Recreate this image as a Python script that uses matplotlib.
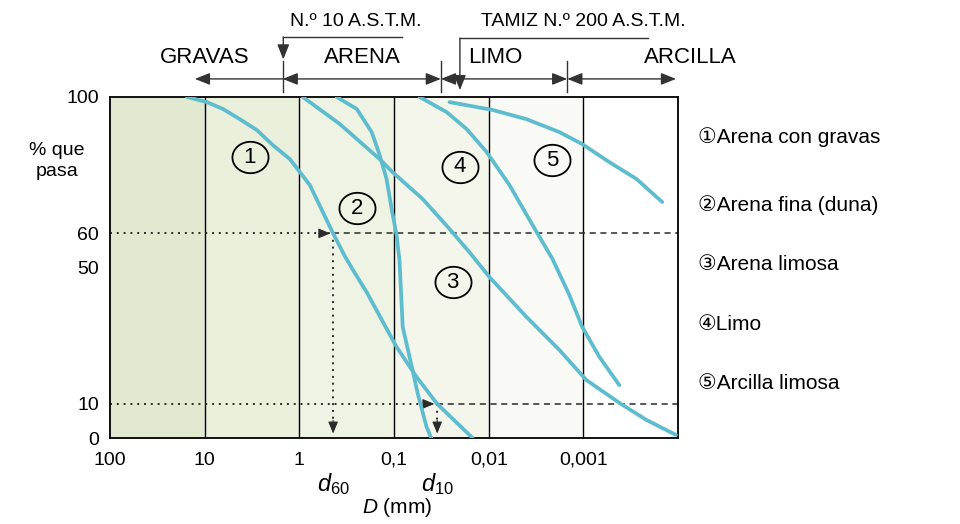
import matplotlib
matplotlib.use("Agg")
import matplotlib.pyplot as plt
import numpy as np

plt.rcParams['font.family'] = ['Liberation Sans', 'DejaVu Sans']
plt.rcParams['mathtext.fontset'] = 'custom'
plt.rcParams['mathtext.it'] = 'Liberation Sans:italic'
plt.rcParams['mathtext.rm'] = 'Liberation Sans'

# curves: D (mm) and % que pasa
d1 = [15.4, 9.5, 6.43, 4.26, 2.81, 1.91, 1.26, 0.776, 0.44, 0.332, 0.273, 0.193, 0.094, 0.0578, 0.035, 0.0148]
p1 = [100, 98.5, 96.5, 93.5, 90.3, 85.9, 81.8, 74.2, 60.0, 53.4, 49.4, 42.6, 26.7, 17.9, 10.0, 0]

d2 = [0.403, 0.248, 0.172, 0.142, 0.120, 0.106, 0.094, 0.0875, 0.081, 0.0637, 0.0564, 0.0453, 0.0404]
p2 = [100, 96.5, 89.7, 83.0, 76.0, 67.2, 59.5, 52.0, 32.6, 19.9, 13.2, 3.2, 0]

d3 = [0.92, 0.375, 0.142, 0.104, 0.0499, 0.0259, 0.0160, 0.00982, 0.00399, 0.00179, 0.00093, 0.000417, 0.000216, 0.000105]
p3 = [100, 92.1, 81.8, 78.0, 70.1, 61.3, 54.5, 47.2, 35.5, 25.8, 17.0, 10.3, 5.3, 0.9]

d4 = [0.0537, 0.0279, 0.0171, 0.01054, 0.00604, 0.00345, 0.00212, 0.00141, 0.00103, 0.000678, 0.000417]
p4 = [100, 95.6, 90.6, 83.9, 74.2, 62.5, 52.5, 42.0, 32.6, 23.8, 15.5]

d5 = [0.0259, 0.00912, 0.00399, 0.00179, 0.00103, 0.000532, 0.000276, 0.000147]
p5 = [98.5, 96.2, 93.5, 89.7, 86.2, 80.9, 76.0, 69.2]

curves = [(d1, p1), (d2, p2), (d3, p3), (d4, p4), (d5, p5)]
names = ['Arena con gravas', 'Arena fina (duna)', 'Arena limosa', 'Limo', 'Arcilla limosa']
marks = ['\u2460', '\u2461', '\u2462', '\u2463', '\u2464']
# where the circled numbers sit (D, %)
mark_d = [3.33, 0.248, 0.0241, 0.0203, 0.00212]
mark_p = [82.4, 67.4, 45.7, 79.5, 81.5]

x_ticks = [100, 10, 1, 0.1, 0.01, 0.001]
x_labels = ['100', '10', '1', '0,1', '0,01', '0,001']
y_ticks = [0, 10, 50, 60, 100]

d60 = 0.44
d10 = 0.035
zone_bounds = [1.5, 0.032, 0.00148]   # gravas|arena, arena|limo, limo|arcilla
zone_ends = [12.7, 0.000105]
zone_names = ['GRAVAS', 'ARENA', 'LIMO', 'ARCILLA']

col = '#5dbdcf'
ink = '#2a2a2a'
shade = ['#e2e9d1', '#eaf0dc', '#eff3e3', '#f4f6ec', '#f9faf5', '#ffffff']

fig = plt.figure(figsize=(9.6, 5.24), dpi=100)
ax = fig.add_axes([0.1146, 0.1641, 0.5917, 0.6508])
ax.set_xscale('log')
ax.set_xlim(100, 0.0001)
ax.set_ylim(0, 100)

# background shading per decade
edges = [100, 10, 1, 0.1, 0.01, 0.001, 0.0001]
for i in range(len(edges) - 1):
    ax.axvspan(edges[i], edges[i + 1], color=shade[i], lw=0, zorder=0)
for e in edges[1:-1]:
    ax.axvline(e, color='black', lw=1.0, zorder=1)

# 60 % and 10 % guide lines
ax.plot([100, d60], [60, 60], color=ink, ls=(0, (1, 2.5)), lw=1.4, zorder=2)
ax.plot([d60, 0.0001], [60, 60], color=ink, ls=(0, (4, 3)), lw=1.1, zorder=2)
ax.plot([100, d10], [10, 10], color=ink, ls=(0, (1, 2.5)), lw=1.4, zorder=2)
ax.plot([d10, 0.0001], [10, 10], color=ink, ls=(0, (4, 3)), lw=1.1, zorder=2)
ax.plot([d60, d60], [60, 2], color=ink, ls=(0, (1, 2.5)), lw=1.4, zorder=2)
ax.plot([d10, d10], [10, 2], color=ink, ls=(0, (1, 2.5)), lw=1.4, zorder=2)
ahead = dict(arrowstyle='-|>,head_length=0.6,head_width=0.25', color=ink, lw=0.8, mutation_scale=12)
ax.annotate('', xy=(d60, 60), xytext=(d60 * 1.5, 60), arrowprops=ahead, zorder=3)
ax.annotate('', xy=(d10, 10), xytext=(d10 * 1.5, 10), arrowprops=ahead, zorder=3)
ax.annotate('', xy=(d60, 0.5), xytext=(d60, 6), arrowprops=ahead, zorder=3)
ax.annotate('', xy=(d10, 0.5), xytext=(d10, 6), arrowprops=ahead, zorder=3)

for (d, p) in curves:
    ax.plot(d, p, color=col, lw=2.7, solid_capstyle='round', solid_joinstyle='round', zorder=4)

# circled numbers on the curves (slightly wide ovals like the original)
t = np.linspace(0, 2 * np.pi, 80)
oval = np.column_stack([1.15 * np.cos(t), np.sin(t)])
for i in range(len(mark_d)):
    ax.plot(mark_d[i], mark_p[i], marker=oval, ms=26, mfc='none', mec='black', mew=1.3, ls='none', zorder=5)
    ax.text(mark_d[i], mark_p[i], str(i + 1), ha='center', va='center', fontsize=16, zorder=5)

for s in ax.spines.values():
    s.set_linewidth(1.3)
ax.set_xticks(x_ticks)
ax.set_xticklabels(x_labels, fontsize=14)
ax.minorticks_off()
ax.set_yticks(y_ticks)
ax.set_yticklabels([str(v) for v in y_ticks], fontsize=14)
ax.tick_params(length=0)
ax.tick_params(axis='x', pad=10)
ax.tick_params(axis='y', pad=8)

ax.text(-0.093, 0.812, '% que\npasa', transform=ax.transAxes, ha='center', va='center',
        fontsize=14, linespacing=1.25)

# d60, d10 and axis title under the chart
tr = ax.get_xaxis_transform()
ax.text(d60, -0.135, r'$d_{60}$', transform=tr, ha='center', va='center', fontsize=17)
ax.text(d10, -0.135, r'$d_{10}$', transform=tr, ha='center', va='center', fontsize=17)
ax.text(0.505, -0.205, r'$D$ (mm)', transform=ax.transAxes, ha='center', va='center', fontsize=15)

# zone arrows above the chart
ya = 1.053
kw = dict(xycoords=tr, textcoords=tr, annotation_clip=False)
one = dict(arrowstyle='-|>,head_length=0.7,head_width=0.28', color='#333333', lw=1.0, mutation_scale=13,
           shrinkA=0, shrinkB=0)
two = dict(arrowstyle='<|-|>,head_length=0.7,head_width=0.28', color='#333333', lw=1.0, mutation_scale=13,
           shrinkA=0, shrinkB=0)
ax.annotate('', xy=(zone_ends[0], ya), xytext=(zone_bounds[0], ya), arrowprops=one, **kw)
ax.annotate('', xy=(zone_bounds[1], ya), xytext=(zone_bounds[0], ya), arrowprops=two, **kw)
ax.annotate('', xy=(zone_bounds[2], ya), xytext=(zone_bounds[1], ya), arrowprops=two, **kw)
ax.annotate('', xy=(zone_ends[1], ya), xytext=(zone_bounds[2], ya), arrowprops=two, **kw)
for b in zone_bounds:
    ax.plot([b, b], [1.016, 1.105], color='#333333', lw=1.0, transform=tr, clip_on=False)

zone_x = [0.167, 0.445, 0.678, 1.021]
for name, x in zip(zone_names, zone_x):
    ax.text(x, 1.117, name, transform=ax.transAxes, ha='center', va='center', fontsize=16)

# sieve callouts
ax.plot([0.514, 0.305], [1.176, 1.176], color='#333333', lw=1.0, transform=ax.transAxes, clip_on=False)
ax.annotate('', xy=(0.305, 1.11), xytext=(0.305, 1.176), xycoords='axes fraction',
            arrowprops=one, annotation_clip=False)
ax.text(0.433, 1.222, 'N.\u00ba 10 A.S.T.M.', transform=ax.transAxes, ha='center', va='center', fontsize=14)

ax.plot([0.947, 0.616], [1.173, 1.173], color='#333333', lw=1.0, transform=ax.transAxes, clip_on=False)
ax.annotate('', xy=(0.616, 1.02), xytext=(0.616, 1.173), xycoords='axes fraction',
            arrowprops=one, annotation_clip=False)
ax.text(0.833, 1.222, 'TAMIZ N.\u00ba 200 A.S.T.M.', transform=ax.transAxes, ha='center', va='center', fontsize=14)

# legend on the right
leg_y = [0.7385, 0.6088, 0.496, 0.3798, 0.269]
for m, n, y in zip(marks, names, leg_y):
    fig.text(0.727, y, m + n, ha='left', va='center', fontsize=15)

fig.savefig('out.png', dpi=100, facecolor='white')
